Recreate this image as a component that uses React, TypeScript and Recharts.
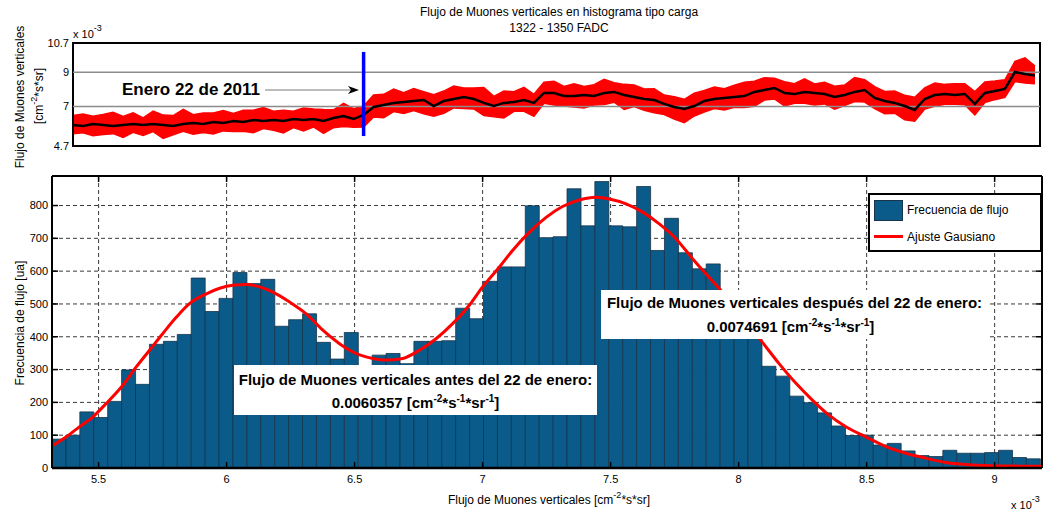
import React from 'react';
import {
  ComposedChart,
  Line,
  Area,
  Bar,
  XAxis,
  YAxis,
  CartesianGrid,
  ReferenceLine,
  ReferenceArea,
} from 'recharts';

const FONT = '"Liberation Sans", Arial, Helvetica, sans-serif';

// top panel: flux (x 10^-3) per sample, smoothed trace plus the upper / lower swings of the raw trace
const fluxSmooth = [
  5.92, 5.87, 5.98, 5.92, 5.87, 5.92, 5.98, 5.92, 5.98, 5.92,
  5.87, 5.98, 6.04, 5.98, 6.1, 6.04, 6.16, 6.1, 6.22, 6.16,
  6.22, 6.16, 6.27, 6.22, 6.27, 6.16, 6.33, 6.45, 6.27, 6.51,
  6.97, 7.09, 7.21, 7.26, 7.32, 7.38, 7.03, 7.32, 7.44, 7.56,
  7.44, 7.21, 7.03, 7.21, 7.26, 7.38, 7.21, 7.79, 7.79, 7.61,
  7.61, 7.67, 7.61, 7.79, 7.85, 7.67, 7.56, 7.44, 7.38, 7.15,
  6.97, 6.86, 7.03, 7.32, 7.44, 7.5, 7.56, 7.61, 7.85, 7.96,
  8.08, 7.79, 7.73, 7.85, 7.79, 7.73, 7.56, 7.67, 7.85, 7.96,
  7.5, 7.32, 7.21, 7.03, 6.8, 7.44, 7.67, 7.73, 7.67, 7.73,
  7.15, 7.79, 7.9, 8.02, 9.01, 8.89, 8.8,
];
const fluxHigh = [
  6.47, 6.57, 6.43, 6.54, 6.67, 6.42, 6.64, 6.34, 6.73, 6.5,
  6.47, 6.83, 6.52, 6.62, 6.62, 6.76, 6.6, 6.78, 6.78, 6.94,
  6.72, 6.78, 6.73, 6.92, 6.85, 6.82, 6.81, 7.19, 6.87, 7.03,
  7.67, 7.71, 8.01, 7.8, 8.04, 7.86, 7.69, 7.9, 8.2, 8.08,
  8.08, 8.11, 7.59, 7.91, 7.86, 8.12, 7.71, 8.41, 8.47, 8.17,
  8.33, 8.17, 8.27, 8.59, 8.39, 8.29, 8.26, 8.02, 8.04, 7.67,
  7.57, 7.42, 7.77, 7.94, 8.14, 8.04, 8.24, 8.41, 8.47, 8.68,
  8.64, 8.45, 8.33, 8.61, 8.31, 8.41, 8.18, 8.25, 8.69, 8.56,
  8.16, 7.88, 7.91, 7.65, 7.54, 8.08, 8.37, 8.29, 8.33, 8.33,
  7.87, 8.43, 8.48, 8.56, 9.63, 9.84, 9.36,
];
const fluxLow = [
  5.42, 5.47, 5.3, 5.37, 5.42, 5.2, 5.5, 5.32, 5.54, 5.14,
  5.35, 5.56, 5.38, 5.48, 5.4, 5.58, 5.54, 5.56, 5.48, 5.72,
  5.62, 5.46, 5.77, 5.58, 5.81, 5.44, 5.77, 5.83, 5.79, 5.81,
  6.39, 6.35, 6.71, 6.6, 6.76, 6.58, 6.43, 6.6, 6.92, 6.88,
  6.86, 6.47, 6.41, 6.33, 6.72, 6.72, 6.43, 7.19, 7.09, 7.03,
  6.97, 6.91, 7.09, 7.11, 7.25, 6.83, 7.0, 6.78, 6.64, 6.53,
  6.27, 6.06, 6.45, 6.68, 6.88, 6.8, 6.96, 6.95, 7.01, 7.38,
  7.44, 7.03, 7.19, 7.19, 7.09, 7.15, 6.84, 7.05, 7.29, 7.26,
  6.88, 6.58, 6.61, 6.23, 6.14, 6.86, 7.01, 7.13, 7.13, 7.11,
  6.51, 7.23, 7.4, 7.54, 8.45, 8.37, 8.32,
];
const fluxTicks = [4.7, 7, 9, 10.7];
const EVENT_SAMPLE = 29; // Enero 22 de 2011
const EVENT_RANGE = [5.28, 10.18];

// bottom panel: histogram of the flux (x 10^-3)
const BIN_START = 5.318;
const BIN_WIDTH = 0.05437;
const binCounts = [
  88, 100, 171, 154, 203, 299, 255, 377, 386, 407,
  579, 477, 517, 596, 562, 575, 432, 452, 470, 383,
  332, 413, 305, 344, 349, 318, 386, 386, 388, 487,
  455, 569, 613, 613, 799, 702, 705, 851, 738, 873,
  738, 735, 858, 663, 761, 656, 607, 622, 535, 470,
  420, 310, 280, 219, 199, 168, 128, 99, 100, 70,
  75, 52, 38, 35, 54, 45, 45, 47, 54, 32, 28,
];
const fitX = [
  5.318, 5.374, 5.426, 5.478, 5.53, 5.589, 5.647, 5.699, 5.751, 5.804,
  5.855, 5.921, 5.973, 6.024, 6.077, 6.129, 6.181, 6.246, 6.311, 6.376,
  6.441, 6.506, 6.571, 6.623, 6.688, 6.753, 6.818, 6.883, 6.948, 7.0,
  7.065, 7.117, 7.183, 7.248, 7.312, 7.378, 7.443, 7.495, 7.56, 7.625,
  7.69, 7.755, 7.82, 7.872, 7.924, 7.983, 8.033, 8.087, 8.158, 8.224,
  8.288, 8.353, 8.419, 8.497, 8.576, 8.653, 8.731, 8.809, 8.887, 8.991,
  9.068, 9.185,
];
const fitY = [
  67, 95, 126, 156, 197, 247, 308, 359, 410, 460,
  501, 531, 548, 557, 559, 552, 536, 506, 470, 420,
  379, 349, 334, 329, 334, 359, 394, 440, 496, 552,
  612, 663, 719, 764, 797, 817, 825, 820, 805, 780,
  744, 699, 638, 592, 547, 490, 440, 389, 318, 258,
  207, 161, 126, 95, 65, 45, 30, 17, 11, 7,
  6, 5,
];
const fluxBinTicks = [5.5, 6, 6.5, 7, 7.5, 8, 8.5, 9];
const countTicks = [0, 100, 200, 300, 400, 500, 600, 700, 800];

const X_MIN = 5.318;
const X_MAX = 9.185;
const Y_MAX = 890;
const T_MAX = fluxSmooth.length - 0.5;

const BAR_BLUE = '#0b5b8a';

const traceRows = fluxSmooth.map((v, i) => ({
  t: i,
  band: [fluxLow[i], fluxHigh[i]],
  smooth: v,
}));

const binRows = binCounts.map((count, i) => ({
  x: BIN_START + BIN_WIDTH * (i + 0.5),
  count,
}));

const fitRows = fitX.map((x, i) => ({ x, y: fitY[i] }));

const Sup = ({ children, size = 9, lift = -6 }: { children: React.ReactNode; size?: number; lift?: number }) => (
  <span style={{ fontSize: size, position: 'relative', top: lift }}>{children}</span>
);

const abs = (style: React.CSSProperties): React.CSSProperties => ({
  position: 'absolute',
  whiteSpace: 'nowrap',
  fontFamily: FONT,
  color: '#000',
  ...style,
});

const tickFont = { fontSize: 11, fill: '#000', fontFamily: FONT };

export default function App() {
  return (
    <div style={{ position: 'absolute', left: 0, top: 0, width: 1043, height: 513, background: '#fff', overflow: 'hidden' }}>
      {/* time series */}
      <div style={{ position: 'absolute', left: 0, top: 0 }}>
        <ComposedChart width={1043} height={160} data={traceRows} margin={{ top: 43, right: 3, bottom: 14, left: 0 }}>
          <XAxis dataKey="t" type="number" domain={[0, T_MAX]} hide allowDataOverflow />
          <YAxis
            type="number"
            domain={[4.7, 10.7]}
            ticks={fluxTicks}
            interval={0}
            width={73}
            tickLine={false}
            axisLine={false}
            tickSize={0}
            tickMargin={4}
            tick={tickFont}
            allowDataOverflow
          />
          <ReferenceLine y={9} stroke="#8c8c8c" strokeWidth={1.5} />
          <ReferenceLine y={7} stroke="#8c8c8c" strokeWidth={1.5} />
          <Area
            dataKey="band"
            stroke="#ff0000"
            strokeWidth={1.5}
            fill="#ff0000"
            fillOpacity={1}
            isAnimationActive={false}
          />
          <Line dataKey="smooth" stroke="#000" strokeWidth={2.5} dot={false} isAnimationActive={false} />
          <ReferenceLine
            segment={[
              { x: EVENT_SAMPLE, y: EVENT_RANGE[0] },
              { x: EVENT_SAMPLE, y: EVENT_RANGE[1] },
            ]}
            stroke="#0000ff"
            strokeWidth={3.5}
          />
          <ReferenceArea x1={0} x2={T_MAX} y1={4.7} y2={10.7} fill="none" stroke="#000" strokeWidth={2} />
        </ComposedChart>
      </div>

      {/* histogram */}
      <div style={{ position: 'absolute', left: 0, top: 160 }}>
        <ComposedChart
          width={1043}
          height={353}
          data={binRows}
          margin={{ top: 15, right: 0, bottom: 15, left: 0 }}
          barCategoryGap={0}
          barGap={0}
        >
          <CartesianGrid xAxisId="bins" stroke="#3a3a3a" strokeDasharray="4 3" />
          <XAxis
            xAxisId="bins"
            dataKey="x"
            type="number"
            domain={[X_MIN, X_MAX]}
            allowDataOverflow
            ticks={fluxBinTicks}
            interval={0}
            height={30}
            tickSize={-6}
            tickMargin={13}
            tick={tickFont}
            axisLine={{ stroke: '#000', strokeWidth: 2.5 }}
            tickLine={{ stroke: '#000', strokeWidth: 1.5 }}
          />
          <XAxis xAxisId="fit" dataKey="x" type="number" domain={[X_MIN, X_MAX]} allowDataOverflow hide />
          <XAxis
            xAxisId="top"
            orientation="top"
            dataKey="x"
            type="number"
            domain={[X_MIN, X_MAX]}
            allowDataOverflow
            ticks={fluxBinTicks}
            interval={0}
            height={1}
            tickSize={-6}
            tickFormatter={() => ''}
            axisLine={{ stroke: '#000', strokeWidth: 2 }}
            tickLine={{ stroke: '#000', strokeWidth: 1.5 }}
          />
          <YAxis
            type="number"
            domain={[0, Y_MAX]}
            allowDataOverflow
            ticks={countTicks}
            interval={0}
            width={52}
            tickSize={-6}
            tickMargin={10}
            tick={tickFont}
            axisLine={{ stroke: '#000', strokeWidth: 2 }}
            tickLine={{ stroke: '#000', strokeWidth: 1.5 }}
          />
          <YAxis
            yAxisId="right"
            orientation="right"
            type="number"
            domain={[0, Y_MAX]}
            allowDataOverflow
            ticks={countTicks}
            interval={0}
            width={1}
            tickSize={-6}
            tickFormatter={() => ''}
            axisLine={{ stroke: '#000', strokeWidth: 2 }}
            tickLine={{ stroke: '#000', strokeWidth: 1.5 }}
          />
          <Bar xAxisId="bins" dataKey="count" fill={BAR_BLUE} stroke="#17344a" strokeWidth={0.8} isAnimationActive={false} />
          <Line
            xAxisId="fit"
            data={fitRows}
            dataKey="y"
            type="monotone"
            stroke="#ff0000"
            strokeWidth={3}
            dot={false}
            isAnimationActive={false}
          />
        </ComposedChart>
      </div>

      {/* titles and axis labels */}
      <div style={abs({ left: 559, top: 5, transform: 'translateX(-50%)', fontSize: 12, lineHeight: '14px' })}>
        Flujo de Muones verticales en histograma tipo carga
      </div>
      <div style={abs({ left: 559, top: 21, transform: 'translateX(-50%)', fontSize: 12, lineHeight: '14px' })}>
        1322 - 1350 FADC
      </div>
      <div style={abs({ left: 73, top: 28, fontSize: 11, lineHeight: '13px' })}>
        x 10<Sup size={9} lift={-7}>-3</Sup>
      </div>
      <div style={abs({ left: 20, top: 97, transform: 'translate(-50%, -50%) rotate(-90deg)', fontSize: 12, lineHeight: '14px' })}>
        Flujo de Muones verticales
      </div>
      <div style={abs({ left: 39, top: 96, transform: 'translate(-50%, -50%) rotate(-90deg)', fontSize: 12, lineHeight: '14px' })}>
        [cm<Sup>-2</Sup>*s*sr]
      </div>
      <div style={abs({ left: 20, top: 323, transform: 'translate(-50%, -50%) rotate(-90deg)', fontSize: 12, lineHeight: '14px' })}>
        Frecuencia de flujo [ua]
      </div>
      <div style={abs({ left: 549, top: 493, transform: 'translateX(-50%)', fontSize: 12, lineHeight: '14px' })}>
        Flujo de Muones verticales [cm<Sup>-2</Sup>*s*sr]
      </div>
      <div style={abs({ left: 1011, top: 499, fontSize: 11, lineHeight: '13px' })}>
        x 10<Sup size={9} lift={-7}>-3</Sup>
      </div>

      {/* date marker */}
      <div style={abs({ left: 122, top: 80, fontSize: 17, fontWeight: 'bold', lineHeight: '20px' })}>Enero 22 de 2011</div>
      <svg style={{ position: 'absolute', left: 0, top: 0 }} width={1043} height={160}>
        <line x1={265} y1={90} x2={352} y2={90} stroke="#7a7a7a" strokeWidth={1} />
        <polygon points="359,90 348,86 351,90 348,94" fill="#000" />
      </svg>

      {/* fit results */}
      <div style={abs({ left: 234, top: 365, width: 363, height: 50, background: '#fff', fontSize: 15, fontWeight: 'bold' })}>
        <div style={{ position: 'absolute', left: 0, right: 0, top: 6, textAlign: 'center', lineHeight: '18px' }}>
          Flujo de Muones verticales antes del 22 de enero:
        </div>
        <div style={{ position: 'absolute', left: 0, right: 0, top: 29, textAlign: 'center', lineHeight: '18px' }}>
          0.0060357 [cm<Sup size={10}>-2</Sup>*s<Sup size={10}>-1</Sup>*sr<Sup size={10}>-1</Sup>]
        </div>
      </div>
      <div style={abs({ left: 601, top: 290, width: 387, height: 49, background: '#fff', fontSize: 15, fontWeight: 'bold' })}>
        <div style={{ position: 'absolute', left: 0, right: 0, top: 4, textAlign: 'center', lineHeight: '18px' }}>
          Flujo de Muones verticales después del 22 de enero:
        </div>
        <div style={{ position: 'absolute', left: -8, right: 0, top: 28, textAlign: 'center', lineHeight: '18px' }}>
          0.0074691 [cm<Sup size={10}>-2</Sup>*s<Sup size={10}>-1</Sup>*sr<Sup size={10}>-1</Sup>]
        </div>
      </div>

      {/* legend */}
      <div style={abs({ left: 868, top: 193, width: 174, height: 59, border: '2px solid #000', background: '#fff', boxSizing: 'border-box' })}>
        <div style={{ position: 'absolute', left: 4, top: 5, width: 29, height: 21, background: BAR_BLUE, border: '1px solid #17344a', boxSizing: 'border-box' }} />
        <div style={{ position: 'absolute', left: 37, top: 8, fontSize: 12, lineHeight: '14px' }}>Frecuencia de flujo</div>
        <div style={{ position: 'absolute', left: 4, top: 40, width: 29, height: 3, background: '#ff0000' }} />
        <div style={{ position: 'absolute', left: 37, top: 35, fontSize: 12, lineHeight: '14px' }}>Ajuste Gausiano</div>
      </div>
    </div>
  );
}
